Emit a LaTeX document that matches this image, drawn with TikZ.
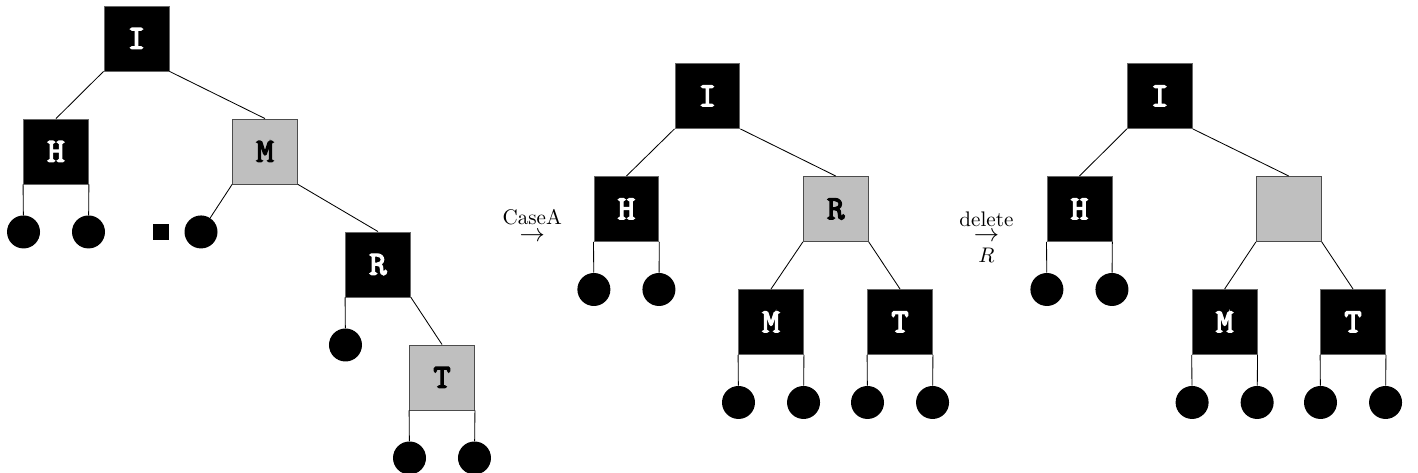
\documentclass[tikz,border=0pt]{standalone}
\usepackage{fontspec}
\usepackage{tikz}
\usetikzlibrary{math}
\newfontfamily\keyfont[AutoFakeBold=4]{Latin Modern Mono}
\tikzstyle{blackbox} = [rectangle, minimum size=1.083cm, inner sep=0pt, fill=black, draw=black!60, text=white, font=\keyfont\bfseries\fontsize{16}{18}\selectfont]
\tikzstyle{graybox} = [rectangle, minimum size=1.083cm, inner sep=0pt, fill=black!25, draw=black!70, text=black, font=\keyfont\bfseries\fontsize{16}{18}\selectfont]
\tikzstyle{leaf} = [circle, minimum size=0.55cm, inner sep=0pt, fill=black]
\tikzstyle{nilsq} = [rectangle, minimum size=0.28cm, inner sep=0pt, fill=black]
\tikzstyle{steplabel} = [align=center, inner sep=0pt, anchor=base]
\begin{document}
\begin{tikzpicture}

  \tikzmath{\ya = 6.283; \yb = 4.40; \yc = 2.517; \lb = 3.058; \lc = 1.175;}

  \useasboundingbox (0,0) rectangle (23.633,7.883);

  % before
  \node[blackbox] (I1) at (2.275,7.242) {I};
  \node[blackbox] (H1) at (0.933,5.358) {H};
  \node[graybox] (M1) at (4.417,5.358) {M};
  \node[leaf] (h1a) at (0.392,4.017) {};
  \node[leaf] (h1b) at (1.475,4.017) {};
  \node[nilsq] (nil) at (2.683,4.017) {};
  \node[leaf] (m1a) at (3.35,4.017) {};
  \node[blackbox] (R1) at (6.30,3.475) {R};
  \node[leaf] (r1a) at (5.758,2.133) {};
  \node[graybox] (T1) at (7.367,1.592) {T};
  \node[leaf] (t1a) at (6.825,0.25) {};
  \node[leaf] (t1b) at (7.908,0.25) {};

  \draw (I1.south west) -- (H1.north);
  \draw (I1.south east) -- (M1.north);
  \draw (H1.south west) -- (h1a);
  \draw (H1.south east) -- (h1b);
  \draw (M1.south west) -- (m1a);
  \draw (M1.south east) -- (R1.north);
  \draw (R1.south west) -- (r1a);
  \draw (R1.south east) -- (T1.north);
  \draw (T1.south west) -- (t1a);
  \draw (T1.south east) -- (t1b);

  \node[steplabel] (caseA) at (8.87,3.852) {CaseA\\[-4pt]{\large$\rightarrow$}};

  % after case A
  \node[blackbox] (I2) at (11.79,\ya) {I};
  \node[blackbox] (H2) at (10.44,\yb) {H};
  \node[graybox] (R2) at (13.93,\yb) {R};
  \node[leaf] (h2a) at (9.898,\lb) {};
  \node[leaf] (h2b) at (10.982,\lb) {};
  \node[blackbox] (M2) at (12.85,\yc) {M};
  \node[blackbox] (T2) at (15.0,\yc) {T};
  \node[leaf] (m2a) at (12.308,\lc) {};
  \node[leaf] (m2b) at (13.392,\lc) {};
  \node[leaf] (t2a) at (14.458,\lc) {};
  \node[leaf] (t2b) at (15.542,\lc) {};

  \draw (I2.south west) -- (H2.north);
  \draw (I2.south east) -- (R2.north);
  \draw (H2.south west) -- (h2a);
  \draw (H2.south east) -- (h2b);
  \draw (R2.south west) -- (M2.north);
  \draw (R2.south east) -- (T2.north);
  \draw (M2.south west) -- (m2a);
  \draw (M2.south east) -- (m2b);
  \draw (T2.south west) -- (t2a);
  \draw (T2.south east) -- (t2b);

  \node[steplabel] (delR) at (16.44,3.508) {delete\\[-5.1pt]{\large$\rightarrow$}\\[-2pt]$R$};

  % after delete
  \node[blackbox] (I3) at (19.33,\ya) {I};
  \node[blackbox] (H3) at (17.99,\yb) {H};
  \node[graybox] (G3) at (21.48,\yb) {};
  \node[leaf] (h3a) at (17.448,\lb) {};
  \node[leaf] (h3b) at (18.532,\lb) {};
  \node[blackbox] (M3) at (20.41,\yc) {M};
  \node[blackbox] (T3) at (22.55,\yc) {T};
  \node[leaf] (m3a) at (19.868,\lc) {};
  \node[leaf] (m3b) at (20.952,\lc) {};
  \node[leaf] (t3a) at (22.008,\lc) {};
  \node[leaf] (t3b) at (23.092,\lc) {};

  \draw (I3.south west) -- (H3.north);
  \draw (I3.south east) -- (G3.north);
  \draw (H3.south west) -- (h3a);
  \draw (H3.south east) -- (h3b);
  \draw (G3.south west) -- (M3.north);
  \draw (G3.south east) -- (T3.north);
  \draw (M3.south west) -- (m3a);
  \draw (M3.south east) -- (m3b);
  \draw (T3.south west) -- (t3a);
  \draw (T3.south east) -- (t3b);

\end{tikzpicture}
\end{document}
